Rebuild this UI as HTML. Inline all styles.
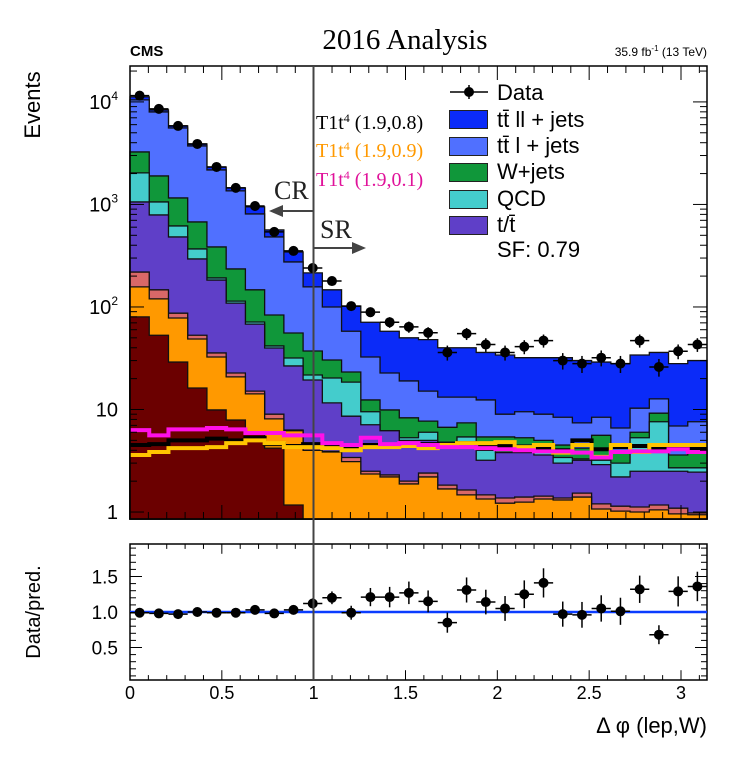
<!DOCTYPE html>
<html><head><meta charset="utf-8"><style>
body{margin:0;background:#fff;}
svg{display:block;}
text{font-family:"Liberation Sans",Arial,sans-serif;}
.serif{font-family:"Liberation Serif","DejaVu Serif",serif;}
</style></head><body>
<svg id="chart" width="736" height="760" viewBox="0 0 736 760" xmlns="http://www.w3.org/2000/svg">
<g id="layers"></g>
<g id="signals"></g>
<g id="points"></g>
<g id="axes"></g>
<g id="ratio"></g>

<text x="130" y="56" font-size="15" font-weight="bold">CMS</text>
<text class="serif" x="405" y="49" font-size="29" text-anchor="middle">2016 Analysis</text>
<text x="707" y="56" font-size="12" text-anchor="end">35.9 fb<tspan dy="-5" font-size="8">-1</tspan><tspan dy="5"> (13 TeV)</tspan></text>
<text transform="translate(40,105) rotate(-90)" font-size="22" text-anchor="middle">Events</text>
<text transform="translate(40,612) rotate(-90)" font-size="20" text-anchor="middle">Data/pred.</text>
<text x="707" y="733" font-size="22" text-anchor="end">Δ φ (lep,W)</text>

<line x1="313.5" y1="66" x2="313.5" y2="680" stroke="#444" stroke-width="2"/>
<text class="serif" x="274" y="199" font-size="26" fill="#222">CR</text>
<g><line x1="313" y1="211" x2="280" y2="211" stroke="#444" stroke-width="2"/><polygon points="269,211 283,205 283,217" fill="#444"/></g>
<text class="serif" x="320" y="238" font-size="26" fill="#222">SR</text>
<g><line x1="314" y1="248" x2="354" y2="248" stroke="#444" stroke-width="2"/><polygon points="366,248 352,242 352,254" fill="#444"/></g>

<text class="serif" x="316" y="129" font-size="20" fill="#000">T1t<tspan dy="-7" font-size="12">4</tspan><tspan dy="7"> (1.9,0.8)</tspan></text>
<text class="serif" x="316" y="157" font-size="20" fill="#ff9900">T1t<tspan dy="-7" font-size="12">4</tspan><tspan dy="7"> (1.9,0.9)</tspan></text>
<text class="serif" x="316" y="186" font-size="20" fill="#e0129a">T1t<tspan dy="-7" font-size="12">4</tspan><tspan dy="7"> (1.9,0.1)</tspan></text>

<g>
<g><line x1="450" y1="92" x2="488" y2="92" stroke="#000" stroke-width="1.5"/><line x1="469" y1="85" x2="469" y2="99" stroke="#000" stroke-width="1.5"/><circle cx="469" cy="92" r="5" fill="#000"/><text x="497" y="100" font-size="22">Data</text></g>
<g><rect x="449.5" y="110.5" width="38" height="18" fill="#0b2bf8" stroke="#222"/><text x="497" y="127" font-size="22">tt̄ ll + jets</text></g>
<g><rect x="449.5" y="137.5" width="38" height="18" fill="#5070ff" stroke="#222"/><text x="497" y="153" font-size="22">tt̄ l + jets</text></g>
<g><rect x="449.5" y="163.5" width="38" height="18" fill="#10973a" stroke="#222"/><text x="497" y="179" font-size="22">W+jets</text></g>
<g><rect x="449.5" y="190.5" width="38" height="18" fill="#44cccc" stroke="#222"/><text x="497" y="206" font-size="22">QCD</text></g>
<g><rect x="449.5" y="216.5" width="38" height="18" fill="#5f3fc8" stroke="#222"/><text x="497" y="232" font-size="22">t/t̄</text></g>
<text x="497" y="257" font-size="22">SF: 0.79</text>
</g>
</svg>
<script>
const binEdgesMax = 3.14159;
const nBins = 30;
const dataCounts = [11500,8550,5830,3890,2320,1450,966,540,352,240,179,102,89,71,64,56,36,55,43,36,41,47,30,28,32,28,47,26,37,43];
const ttllTop = [11190,8350,5830,3890,2320,1450,946,564,344,215,147,102,71,58,50,48,40,40,36,34,32,32,32,30,29,28,34,36,28,30];
const ttlTop = [10470,7980,5570,3720,2170,1355,808,482,275,157,100,58,32.5,22.7,19,15.1,13.2,13.2,12.4,9.0,9.5,9.0,8.4,7.4,8.4,6.6,10.3,12.7,6.9,7.6];
const wjetsTop = [3250,1897,1157,675,385,235,147,83.5,55.7,37.2,30.4,23.2,12.4,9.9,8.3,7.7,6.7,7.4,5.4,5.4,5.3,5.0,4.5,4.2,5.6,3.8,6.0,9.2,3.6,4.0];
const qcdTop = [2030,1058,617,368,192,114,71.4,41.7,31.8,21.7,20.3,18.5,9.5,6.2,5.3,6.0,4.8,5.4,4.0,3.8,4.5,4.2,3.4,3.3,3.2,3.0,5.3,7.6,2.7,2.7];
const singleTopTop = [1058,790,482,294,183,109,68,39.8,26.6,19.4,11.6,8.6,7.1,6.2,5.0,5.0,4.7,4.4,3.2,3.8,3.8,3.6,3.0,3.2,2.9,2.2,2.5,2.5,2.5,2.45];
const salmonTop = [219,147,87,53,35.6,22.7,15.1,9.0,6.3,4.2,3.9,3.4,2.5,2.3,2.0,2.4,1.83,1.64,1.47,1.37,1.40,1.43,1.37,1.53,1.20,1.14,1.12,1.17,1.09,0.98];
const orangeTop = [157,120,78,48.7,32.5,20.8,14.2,8.1,6.2,4.0,3.85,3.1,2.35,2.2,1.88,2.2,1.68,1.47,1.34,1.22,1.25,1.34,1.31,1.40,1.07,1.02,1.0,1.05,0.96,0.94];
const maroonTop = [80,53,29,16.2,9.9,7.9,5.9,4.2,1.17,0,0,0,0,0,0,0,0,0,0,0,0,0,0,0,0,0,0,0,0,0];
const signalBlack = [4.5,4.6,5.0,5.0,5.2,5.0,5.3,4.6,4.4,4.6,4.4,4.3,4.5,4.4,4.6,4.6,4.5,4.7,4.5,4.4,4.3,4.2,4.0,5.0,4.1,4.3,4.4,4.2,4.3,4.2];
const signalOrange = [3.6,3.85,4.2,4.2,4.3,4.7,5.0,4.7,4.3,4.3,4.2,4.0,4.3,4.3,4.4,4.2,4.5,4.7,4.7,4.8,4.3,4.5,3.8,4.5,3.45,4.5,3.85,4.5,4.5,4.5];
const signalMagenta = [6.3,5.6,6.4,6.4,6.6,6.4,5.9,5.9,5.6,5.6,4.7,4.5,5.3,4.6,4.7,4.5,4.3,4.3,4.2,4.1,4.0,3.9,3.9,3.8,3.4,3.85,3.9,3.9,4.1,3.85];
const ratioValues = [0.99,0.98,0.97,1.0,0.99,0.99,1.03,0.98,1.03,1.12,1.2,0.99,1.21,1.21,1.27,1.15,0.85,1.31,1.14,1.05,1.25,1.41,0.97,0.96,1.05,1.01,1.32,0.68,1.29,1.36];
const logTickLabels = ["1","10","10","10","10"];
const logTickExps = ["","","2","3","4"];
const xTickLabels = ["0","0.5","1","1.5","2","2.5","3"];
const ratioTickLabels = ["0.5","1.0","1.5"];

const NS="http://www.w3.org/2000/svg";
const L=130,R=707,T=66,B=519, RT=544, RB=680;
const yMin=0.855, yMax=22400;
function X(v){return L+v*(R-L)/binEdgesMax;}
function Y(v){ if(v<=yMin) return B; const y=B-(Math.log10(v)-Math.log10(yMin))/(Math.log10(yMax)-Math.log10(yMin))*(B-T); return Math.max(T,y);}
function RY(r){return 612-(r-1)*71;}
const bw=binEdgesMax/nBins;
function mk(tag,attrs,parent){const e=document.createElementNS(NS,tag);for(const k in attrs)e.setAttribute(k,attrs[k]);parent.appendChild(e);return e;}

const layers=[[ttllTop,"#0b2bf8","stack-ttll-jets"],[ttlTop,"#5070ff","stack-ttl-jets"],[wjetsTop,"#10973a","stack-wjets"],[qcdTop,"#44cccc","stack-qcd"],[singleTopTop,"#5f3fc8","stack-single-top"],[salmonTop,"#d96868","stack-other-salmon"],[orangeTop,"#ff9900","stack-other-orange"],[maroonTop,"#6b0000","stack-other-maroon"]];
const gL=document.getElementById('layers');
layers.forEach(([vals,col,name])=>{
  let d=`M${X(0)},${B}`;
  for(let i=0;i<nBins;i++){const y=Y(vals[i]);d+=`L${X(i*bw)},${y}L${X((i+1)*bw)},${y}`;}
  d+=`L${X(binEdgesMax)},${B}Z`;
  const p=mk('path',{d:d,fill:col,stroke:"#111","stroke-width":1.3},gL);
  
  
});

const gS=document.getElementById('signals');
[[signalBlack,"#000","signal-line-0p8"],[signalOrange,"#ffc400","signal-line-0p9"],[signalMagenta,"#ff10e8","signal-line-0p1"]].forEach(([vals,col,name])=>{
  let d="";
  for(let i=0;i<nBins;i++){const y=Y(vals[i]);d+=(i?"L":"M")+`${X(i*bw)},${y}L${X((i+1)*bw)},${y}`;}
  const p=mk('path',{d:d,fill:"none",stroke:col,"stroke-width":4},gS);
  
  
});

const gP=document.getElementById('points');
dataCounts.forEach((v,i)=>{
  const cx=X((i+0.5)*bw), cy=Y(v), e=Math.sqrt(v);
  const g=mk('g',{},gP);
  
  
  mk('line',{x1:X(i*bw),x2:X((i+1)*bw),y1:cy,y2:cy,stroke:"#000","stroke-width":1.5},g);
  mk('line',{x1:cx,x2:cx,y1:Y(v+e),y2:Y(v-e),stroke:"#000","stroke-width":1.5},g);
  mk('circle',{cx:cx,cy:cy,r:5,fill:"#000"},g);
});

const gA=document.getElementById('axes');
mk('rect',{x:L,y:T,width:R-L,height:B-T,fill:"none",stroke:"#000","stroke-width":1.5},gA);
for(let dec=0;dec<=4;dec++){
  for(let m=1;m<=9;m++){
    const v=m*Math.pow(10,dec); if(v<yMin||v>yMax) continue;
    const y=Y(v), len=m===1?14:7;
    mk('line',{x1:L,x2:L+len,y1:y,y2:y,stroke:"#000","stroke-width":1},gA);
    mk('line',{x1:R,x2:R-len,y1:y,y2:y,stroke:"#000","stroke-width":1},gA);
  }
  const t=mk('text',{x:118,y:Y(Math.pow(10,dec))+7,"font-size":20,"text-anchor":"end"},gA);
  t.textContent=logTickLabels[dec];
  if(logTickExps[dec]){const ts=mk('tspan',{dy:-9,"font-size":12},t);ts.textContent=logTickExps[dec];}
  
  
}
for(let k=0;k<=31;k++){
  const v=k*0.1; if(v>binEdgesMax) break;
  const x=X(v), len=(k%5===0)?14:7;
  mk('line',{x1:x,x2:x,y1:B,y2:B-len,stroke:"#000","stroke-width":1},gA);
  mk('line',{x1:x,x2:x,y1:T,y2:T+len,stroke:"#000","stroke-width":1},gA);
  mk('line',{x1:x,x2:x,y1:RB,y2:RB-len*0.7,stroke:"#000","stroke-width":1},gA);
  mk('line',{x1:x,x2:x,y1:RT,y2:RT+len*0.7,stroke:"#000","stroke-width":1},gA);
}
xTickLabels.forEach((lab,k)=>{
  const t=mk('text',{x:X(k*0.5),y:699,"font-size":18,"text-anchor":"middle"},gA);
  t.textContent=lab;
  
  
});

const gR=document.getElementById('ratio');
mk('rect',{x:L,y:RT,width:R-L,height:RB-RT,fill:"none",stroke:"#000","stroke-width":1.5},gR);
for(let k=1;k<=19;k++){
  const r=k*0.1,y=RY(r); if(y<RT||y>RB) continue;
  const len=(k%5===0)?12:6;
  mk('line',{x1:L,x2:L+len,y1:y,y2:y,stroke:"#000","stroke-width":1},gR);
  mk('line',{x1:R,x2:R-len,y1:y,y2:y,stroke:"#000","stroke-width":1},gR);
}
ratioTickLabels.forEach((lab,k)=>{
  const t=mk('text',{x:118,y:RY(0.5+k*0.5)+7,"font-size":19,"text-anchor":"end"},gR);
  t.textContent=lab;
  
  
});
const unity=mk('line',{x1:L,x2:R,y1:RY(1),y2:RY(1),stroke:"#0a3cff","stroke-width":2.5},gR);


ratioValues.forEach((r,i)=>{
  const cx=X((i+0.5)*bw), cy=RY(r), e=r/Math.sqrt(dataCounts[i]);
  const g=mk('g',{},gR);
  
  
  mk('line',{x1:X(i*bw),x2:X((i+1)*bw),y1:cy,y2:cy,stroke:"#000","stroke-width":1.5},g);
  mk('line',{x1:cx,x2:cx,y1:RY(r+e),y2:RY(r-e),stroke:"#000","stroke-width":1.5},g);
  mk('circle',{cx:cx,cy:cy,r:5,fill:"#000"},g);
});
</script>
</body></html>
